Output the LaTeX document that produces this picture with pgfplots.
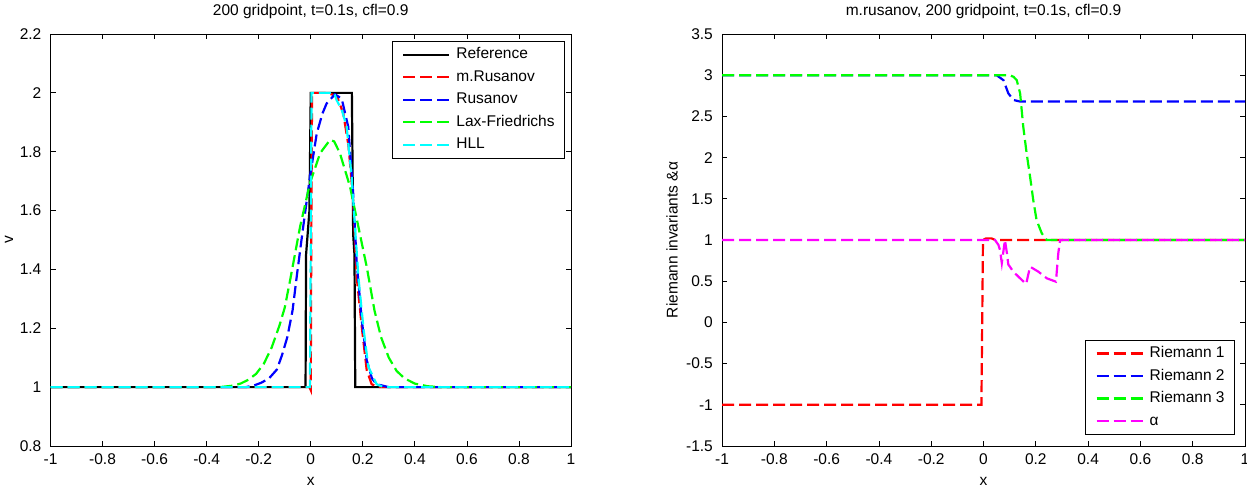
\documentclass[border=0pt]{standalone}
\usepackage{pgfplots}
\pgfplotsset{compat=1.18}
\usepackage{fontspec}
\setmainfont{Liberation Sans}
\definecolor{mred}{rgb}{1,0,0}
\definecolor{mblue}{rgb}{0,0,1}
\definecolor{mgreen}{rgb}{0,1,0}
\definecolor{mcyan}{rgb}{0,1,1}
\definecolor{mmag}{rgb}{1,0,1}
\newcommand{\ff}{\fontsize{15.5}{18}\selectfont}
\begin{document}
\begin{tikzpicture}
\path[use as bounding box] (0,0) rectangle (1247pt,487pt);
\pgfplotsset{
 mystyle/.style={
  scale only axis, height=412pt,
  xmin=-1, xmax=1,
  xtick={-1,-0.8,-0.6,-0.4,-0.2,0,0.2,0.4,0.6,0.8,1},
  xticklabels={-1,-0.8,-0.6,-0.4,-0.2,0,0.2,0.4,0.6,0.8,1},
  tick align=inside, major tick length=5pt,
  axis line style={line width=0.8pt, black},
  every tick/.style={black, line width=0.8pt},
  tick label style={font=\ff},
  xticklabel style={anchor=base, inner sep=0pt, yshift=-19pt},
  yticklabel style={anchor=east, inner sep=0pt, xshift=-9pt},
  label style={font=\ff},
  title style={font=\ff, at={(0.5,1)}, anchor=base, yshift=12.3pt},
  xlabel style={at={(axis description cs:0.5,0)}, anchor=base, yshift=-39pt},
  legend style={font=\ff, draw=black, line width=0.8pt, inner xsep=10pt, inner ysep=6.5pt,
     row sep=8.5pt, column sep=6pt, nodes={inner sep=0pt, text height=11pt, text depth=3pt}},
  legend cell align=left,
  legend image code/.code={\draw[##1] (0pt,0pt) -- (46pt,0pt);},
 },
 md/.style={line width=2.2pt, dash pattern=on 12pt off 5pt},
}
% ---------------- left axis ----------------
\begin{axis}[mystyle,
  at={(50.5pt,41pt)}, anchor=south west, width=520.5pt,
  ymin=0.8, ymax=2.2,
  ytick={0.8,1,1.2,1.4,1.6,1.8,2,2.2},
  yticklabels={0.8,1,1.2,1.4,1.6,1.8,2,2.2},
  title={200 gridpoint, t=0.1s, cfl=0.9},
  xlabel={x}, ylabel={v},
  ylabel style={at={(axis description cs:-0.0797,0.5)}, anchor=center},
  legend style={at={(1,1)}, anchor=north east, xshift=-6pt, yshift=-7pt},
]
\addplot[black, line width=2.2pt] coordinates {
(-1,1) (-0.02,1) (-0.018,1.45) (-0.005,1.6) (0.0,2) (0.158,2) (0.163,1.52) (0.168,1.45) (0.171,1) (1,1)};
\addlegendentry{Reference}
\addplot[mred, md] coordinates {
(-1,1) (-0.005,1) (0,0.99) (0.002,1.5) (0.005,2) (0.06,2.0) (0.10,1.99) (0.125,1.93) (0.145,1.82)
(0.163,1.636) (0.1765,1.375) (0.196,1.205) (0.215,1.058) (0.234,1.01) (0.26,1.0) (1,1)};
\addlegendentry{m.Rusanov}
\addplot[mblue, md] coordinates {
(-1,1) (-0.25,1) (-0.22,1.005) (-0.19,1.015) (-0.16,1.03) (-0.13,1.06) (-0.11,1.11) (-0.09,1.17)
(-0.070,1.26) (-0.054,1.375)
(-0.029,1.545) (-0.003,1.715) (0.023,1.862) (0.045,1.93) (0.061,1.964) (0.093,1.995) (0.119,1.98)
(0.144,1.885) (0.163,1.659) (0.176,1.43) (0.196,1.228) (0.215,1.092) (0.235,1.03) (0.253,1.01) (0.3,1) (1,1)};
\addlegendentry{Rusanov}
\addplot[mgreen, md] coordinates {
(-1,1) (-0.35,1) (-0.30,1.005) (-0.27,1.012) (-0.24,1.025) (-0.21,1.045) (-0.18,1.08) (-0.15,1.135)
(-0.12,1.21) (-0.10,1.27) (-0.08,1.36)
(-0.041,1.545) (-0.003,1.693) (0.036,1.795) (0.074,1.84) (0.09,1.835) (0.112,1.795)
(0.151,1.681) (0.183,1.545) (0.215,1.409) (0.245,1.26) (0.27,1.17) (0.30,1.10) (0.33,1.055) (0.36,1.03)
(0.40,1.012) (0.45,1.003) (0.5,1.0) (1,1)};
\addlegendentry{Lax-Friedrichs}
\addplot[mcyan, md] coordinates {
(-1,1) (-0.003,1) (0,1.5) (0.003,2) (0.09,2) (0.0997,1.975) (0.12,1.94) (0.138,1.885) (0.157,1.715)
(0.170,1.545) (0.183,1.375) (0.202,1.205) (0.221,1.07) (0.253,1.01) (0.28,1) (1,1)};
\addlegendentry{HLL}
\end{axis}
% ---------------- right axis ----------------
\begin{axis}[mystyle,
  at={(722pt,41pt)}, anchor=south west, width=523pt,
  ymin=-1.5, ymax=3.5,
  ytick={-1.5,-1,-0.5,0,0.5,1,1.5,2,2.5,3,3.5},
  yticklabels={-1.5,-1,-0.5,0,0.5,1,1.5,2,2.5,3,3.5},
  title={m.rusanov, 200 gridpoint, t=0.1s, cfl=0.9},
  xlabel={x}, ylabel={Riemann invariants \&α},
  ylabel style={at={(axis description cs:-0.0956,0.5)}, anchor=center},
  legend style={at={(1,0)}, anchor=south east, xshift=-10pt, yshift=11pt},
]
\addplot[mred, md] coordinates {
(-1,-1) (-0.008,-1) (-0.002,1.0) (0.01,1.02) (0.03,1.02) (0.045,1.0) (1,1)};
\addlegendentry{Riemann 1}
\addplot[mblue, md] coordinates {
(-1,3) (0.05,3) (0.076,2.94) (0.095,2.78) (0.114,2.70) (0.14,2.68) (1,2.68)};
\addlegendentry{Riemann 2}
\addplot[mgreen, md] coordinates {
(-1,3) (0.1,3) (0.115,2.98) (0.127,2.94) (0.140,2.78) (0.152,2.375) (0.165,2.05) (0.178,1.77)
(0.19,1.49) (0.203,1.24) (0.223,1.08) (0.242,1.0) (1,1)};
\addlegendentry{Riemann 3}
\addplot[mmag, md] coordinates {
(-1,1) (0.044,1) (0.057,0.94) (0.063,0.88) (0.070,0.72) (0.082,1.0) (0.089,0.85) (0.095,0.70)
(0.101,0.676) (0.114,0.615) (0.140,0.535) (0.163,0.466) (0.178,0.676) (0.21,0.615) (0.242,0.535)
(0.277,0.494) (0.286,0.84) (0.293,1.0) (1,1)};
\addlegendentry{α}
\end{axis}
\end{tikzpicture}
\end{document}
